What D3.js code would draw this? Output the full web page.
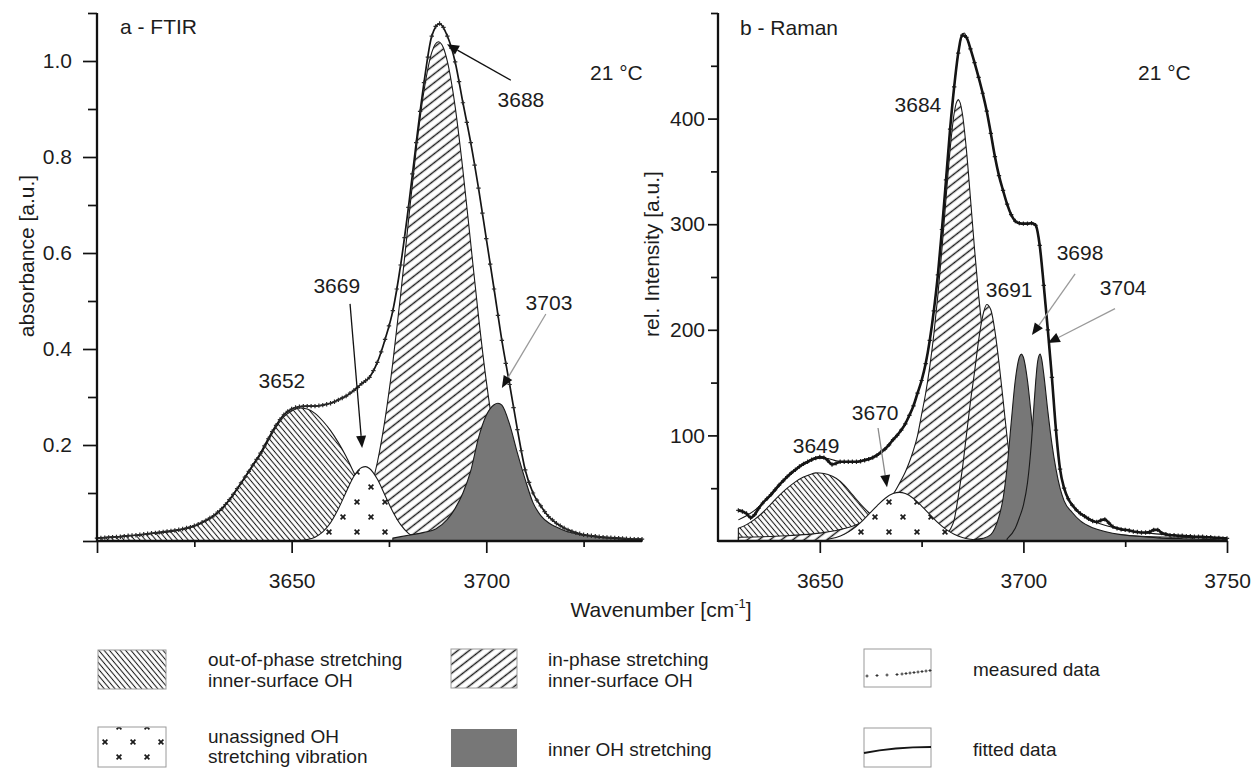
<!DOCTYPE html>
<html><head><meta charset="utf-8">
<script src="https://cdn.jsdelivr.net/npm/d3@7"></script>
<style>
html,body{margin:0;padding:0;background:#fff;}
svg text{font-family:"Liberation Sans",Arial,Helvetica,sans-serif;fill:#1c1c1c;}
.tick text{font-size:21px;}
.lbl{font-size:21px;}
.leg{font-size:19px;}
</style></head><body>
<svg id="chart" width="1256" height="768"></svg>
<script>
// ---------------- DATA ----------------
// FTIR (a): measured data, 1 cm-1 steps from 3600 to 3740
const ftirMeasuredStart = 3600, ftirMeasuredStep = 1;
const ftirMeasured = [
.006,.0065,.007,.0075,.008,.0085,.009,.010,.011,.0115,
.012,.013,.014,.015,.016,.017,.018,.019,.020,.021,
.022,.0235,.025,.027,.029,.032,.035,.039,.043,.048,
.053,.060,.067,.076,.086,.097,.109,.121,.133,.145,
.158,.170,.183,.198,.213,.228,.241,.253,.263,.270,
.275,.278,.280,.281,.281,.281,.281,.282,.283,.285,
.287,.290,.294,.298,.302,.308,.314,.320,.328,.334,
.341,.355,.372,.394,.420,.448,.480,.525,.575,.632,
.695,.765,.830,.895,.955,1.008,1.052,1.072,1.078,1.070,
1.052,1.027,.998,.957,.913,.872,.830,.783,.735,.683,
.630,.577,.525,.470,.418,.370,.326,.278,.232,.188,
.148,.122,.100,.085,.073,.061,.051,.044,.037,.032,
.027,.023,.020,.017,.015,.013,.012,.011,.010,.009,
.008,.0075,.007,.0065,.006,.0055,.005,.0045,.004,.004,.004];
// FTIR fitted sum, 2 cm-1 steps from 3600 to 3740
const ftirFittedStart = 3600, ftirFittedStep = 2;
const ftirFitted = [
.006,.007,.008,.009,.011,.012,.014,.016,.018,.020,
.022,.025,.029,.035,.043,.053,.067,.086,.109,.133,
.158,.183,.213,.241,.263,.275,.280,.281,.281,.283,
.287,.294,.302,.314,.328,.341,.372,.420,.480,.575,
.695,.830,.955,1.052,1.078,1.052,.998,.913,.830,.735,
.630,.525,.418,.326,.232,.148,.100,.073,.051,.037,
.027,.020,.015,.012,.010,.008,.007,.006,.005,.004,.004];
// FTIR fitted components [wavenumber, absorbance]
const ftirOutOfPhase3652 = [[3600,0.006],[3605,0.009],[3610,0.012],[3615,0.016],[3620,0.021],[3624,0.028],[3626,0.034],[3628,0.042],[3630,0.052],[3632,0.066],[3634,0.085],[3636,0.108],[3638,0.132],[3640,0.156],[3642,0.180],[3644,0.209],[3646,0.237],[3648,0.259],[3650,0.271],[3652,0.277],[3654,0.275],[3656,0.266],[3658,0.250],[3660,0.230],[3662,0.205],[3664,0.176],[3666,0.142],[3668,0.110],[3670,0.084],[3672,0.064],[3675,0.045],[3680,0.026],[3685,0.016],[3690,0.010],[3700,0.005],[3710,0.003],[3740,0.001]];
const ftirUnassigned3669 = [[3652,0.001],[3654,0.003],[3656,0.008],[3658,0.019],[3660,0.038],[3662,0.067],[3664,0.102],[3666,0.135],[3668,0.153],[3669,0.155],[3670,0.151],[3672,0.129],[3674,0.095],[3676,0.061],[3678,0.034],[3680,0.016],[3682,0.007],[3684,0.002],[3686,0.001]];
const ftirInPhase3688 = [[3656,0.001],[3660,0.003],[3662,0.006],[3664,0.015],[3666,0.030],[3668,0.056],[3670,0.099],[3672,0.163],[3674,0.254],[3676,0.372],[3678,0.513],[3680,0.666],[3682,0.815],[3684,0.938],[3686,1.018],[3687.7,1.04],[3689,1.027],[3690,0.999],[3692,0.905],[3694,0.772],[3696,0.620],[3698,0.468],[3700,0.333],[3702,0.223],[3704,0.141],[3706,0.084],[3708,0.047],[3710,0.025],[3712,0.012],[3714,0.006],[3716,0.003],[3720,0.001]];
const ftirInner3703 = [[3676,0.006],[3680,0.012],[3684,0.018],[3687,0.025],[3690,0.045],[3692,0.068],[3694,0.100],[3696,0.146],[3698,0.215],[3700,0.262],[3702,0.284],[3703,0.287],[3704,0.283],[3706,0.243],[3708,0.183],[3710,0.128],[3712,0.080],[3714,0.053],[3716,0.038],[3718,0.029],[3720,0.022],[3725,0.012],[3730,0.007],[3735,0.004],[3740,0.003]];

// Raman (b): measured data, 1 cm-1 steps from 3630 to 3750
const ramanMeasuredStart = 3630, ramanMeasuredStep = 1;
const ramanMeasured = [
29,28,26,22,25,31,36,40,44,48.5,
53,57,61,64.5,67.5,70.5,73,75,77,78.5,
79.5,79,76,72.5,73.5,75,75,75,75,75,
75.5,76.5,77.5,79,81,84,87,91,96,100,
105,111,119,128,140,152,168,190,218,252,
295,342,390,430,462,479,477,466,453,439,
424,407,386,364,346,332,319,309,303,301,
300.5,300.5,301,299,280,242,200,155,105,68,
50,40,34,29.5,26,23.5,21,19,18,19.5,
20.5,17,13.5,12,11,10.5,10,9,8.5,8,
8,8.5,10.5,10.5,7.5,6.5,5.5,5.5,5,5,
4.5,4.5,4,4,4,3.5,3.5,3,3,2.5,2.5];
// Raman fitted sum [wavenumber, intensity]
const ramanFitted = [[3630,20],[3632,24],[3634,29],[3636,36],[3638,43],[3640,52],[3642,60],[3644,67],[3646,72.5],[3648,76.5],[3650,78.5],[3652,78],[3654,76],[3656,75],[3658,75],[3660,76],[3662,78],[3664,82],[3666,88],[3668,96],[3670,105],[3671,111],[3672,119],[3673,128],[3674,140],[3675,152],[3676,168],[3677,190],[3678,218],[3679,252],[3680,295],[3681,342],[3682,390],[3683,430],[3684,462],[3685,479],[3685.5,481],[3686,477],[3687,466],[3688,453],[3689,439],[3690,424],[3691,407],[3692,386],[3693,364],[3694,346],[3695,332],[3696,319],[3697,309],[3698,303],[3699,301],[3700,300.5],[3701,300.5],[3702,301],[3703,299],[3703.5,293],[3704,280],[3704.5,262],[3705,242],[3705.5,221],[3706,200],[3706.5,178],[3707,155],[3707.5,130],[3708,105],[3708.5,84],[3709,68],[3710,50],[3711,40],[3712,34],[3714,26],[3716,21],[3718,17.5],[3720,15],[3722,13],[3725,10.5],[3728,8.5],[3732,7],[3736,5.5],[3740,4.5],[3745,3.5],[3750,2.5]];
// Raman fitted components
const ramanOutOfPhase3649 = [[3630,12],[3632,15.5],[3634,20.5],[3636,27],[3638,35],[3640,43],[3642,50],[3644,56],[3646,60.5],[3648,63.5],[3649,64.5],[3650,64.4],[3652,63],[3654,59.5],[3656,53],[3658,44],[3660,35],[3662,27],[3664,20],[3666,14.5],[3668,10.5],[3670,7.5],[3673,5],[3676,3.5],[3680,2.2],[3690,0.9],[3700,0.4]];
const ramanInPhase3684 = [[3630,3.5],[3634,3.8],[3638,4.3],[3642,5],[3646,6],[3650,7.5],[3654,10],[3658,14],[3660,17],[3662,21],[3664,27],[3666,34],[3668,44],[3670,57.7],[3671,65.4],[3672,74.8],[3673,86],[3674,99.8],[3675,119.8],[3676,139.9],[3677,164.9],[3678,195.5],[3679,232.8],[3680,276.5],[3681,324.4],[3682,370.6],[3683,405.1],[3684,418],[3685,405.1],[3686,370.6],[3687,324.4],[3688,276.5],[3689,232.8],[3690,195.5],[3691,164.9],[3692,139.9],[3693,119.8],[3694,99.8],[3695,86],[3696,74.8],[3698,57.7],[3700,45.6],[3702,36],[3704,27],[3706,21],[3708,17],[3710,14],[3714,10],[3718,7.5],[3722,6],[3726,5],[3730,4.3],[3734,3.8],[3738,3.5],[3744,3],[3750,2.6]];
const ramanInPhase3691 = [[3680,2.5],[3682,10.8],[3683,20],[3684,42],[3685,68],[3686,100],[3687,132],[3688,160],[3689,190],[3690,213],[3691,224],[3692,219],[3693,199],[3694,169],[3695,134],[3696,98],[3697,67],[3698,43],[3699,25],[3700,14],[3702,3.4],[3704,0.7],[3706,0.1]];
const ramanUnassigned3670 = [[3652,1.7],[3654,3.4],[3656,6.4],[3658,11],[3660,17.4],[3662,25.3],[3664,33.1],[3666,40.3],[3668,44.9],[3669.5,46],[3671,44.9],[3673,40.3],[3675,33.1],[3677,25.3],[3679,17.4],[3681,11],[3683,6.4],[3685,3.4],[3687,1.7],[3690,0.5]];
const ramanInner3698 = [[3688,1.5],[3690,2.5],[3692,6],[3693,12],[3694,23],[3695,40],[3696,70],[3697,112],[3698,152],[3699,174],[3699.5,177],[3700,174],[3701,152],[3702,116],[3703,77],[3704,45],[3705,23],[3706,12],[3707,6.5],[3709,4],[3712,2.5],[3716,1.5],[3720,1]];
const ramanInner3704 = [[3696,2],[3698,12],[3699,22],[3700,34],[3701,55],[3702,95],[3702.5,123],[3703,150],[3703.5,170],[3704.1,177],[3704.5,172],[3705,158],[3706,123],[3707,92],[3708,68],[3709,50],[3710,38],[3712,27],[3714,19],[3717,12.5],[3720,9],[3724,6],[3728,4.5],[3733,3],[3740,2],[3750,1]];

// tick values
const ftirXMajor = [3600, 3650, 3700], ftirXMinor = [3625, 3675, 3725];
const ftirYMajor = [0, 0.2, 0.4, 0.6, 0.8, 1.0], ftirYMinor = [0.1, 0.3, 0.5, 0.7, 0.9, 1.1];
const ramanXMajor = [3650, 3700, 3750], ramanXMinor = [3675, 3725];
const ramanYMajor = [100, 200, 300, 400], ramanYMinor = [50, 150, 250, 350, 450, 500];

// peak annotations: label position [wn, value], arrow start/tip
const ftirPeakLabels = [
  {t:"3652", w:3647.5, v:0.319},
  {t:"3669", w:3661.6, v:0.517, a:[3665.0,0.494,3668.1,0.194], c:"#111"},
  {t:"3688", w:3708.9, v:0.904, a:[3706.3,0.960,3689.9,1.035], c:"#111"},
  {t:"3703", w:3716.1, v:0.481, a:[3715.3,0.473,3704.0,0.319], c:"#9a9a9a"}];
const ramanPeakLabels = [
  {t:"3684", w:3674.1, v:406},
  {t:"3649", w:3649.1, v:83},
  {t:"3670", w:3663.6, v:114.6, a:[3664.3,107,3666.5,51], c:"#8a8a8a"},
  {t:"3691", w:3696.5, v:231},
  {t:"3698", w:3713.9, v:266, a:[3712.7,253,3702.1,195], c:"#9a9a9a"},
  {t:"3704", w:3724.5, v:233, a:[3722.5,220,3706.0,187.5], c:"#9a9a9a"}];

// ---------------- DRAW ----------------
const svg = d3.select("#chart");
const defs = svg.append("defs");
function hatch(id, angle, sp, sw){
  const p = defs.append("pattern").attr("id",id).attr("patternUnits","userSpaceOnUse")
    .attr("width",sp).attr("height",sp).attr("patternTransform",`rotate(${angle})`);
  p.append("rect").attr("width",sp).attr("height",sp).attr("fill","#fff");
  p.append("line").attr("x1",sp/2).attr("y1",-1).attr("x2",sp/2).attr("y2",sp+1)
    .attr("stroke","#1a1a1a").attr("stroke-width",sw);
}
hatch("hatchOut", -40, 4.1, 1.05);
hatch("hatchIn", 52, 7, 1.45);
const pd = defs.append("pattern").attr("id","dotX").attr("patternUnits","userSpaceOnUse")
  .attr("width",28).attr("height",30);
pd.append("rect").attr("width",28).attr("height",30).attr("fill","#fff");
[[7,7],[21,22]].forEach(([cx,cy])=>pd.append("path")
  .attr("d",`M${cx-2.4},${cy-2.4}L${cx+2.4},${cy+2.4}M${cx+2.4},${cy-2.4}L${cx-2.4},${cy+2.4}`)
  .attr("stroke","#1a1a1a").attr("stroke-width",1.7));
const GREY = "#777777";

const xA = d3.scaleLinear().domain([3600,3740]).range([97,642]);
const yA = d3.scaleLinear().domain([0,1.1]).range([541,13]);
const xB = d3.scaleLinear().domain([3625,3750]).range([718,1227]);
const yB = d3.scaleLinear().domain([0,500]).range([541,13]);

function drawComponent(g, data, x, y, fill){
  const area = d3.area().x(d=>x(d[0])).y0(y(0)).y1(d=>y(d[1])).curve(d3.curveMonotoneX);
  g.append("path").datum(data).attr("d",area).attr("fill",fill)
    .attr("stroke","#1a1a1a").attr("stroke-width",1.1);
}
function drawLine(g, data, x, y, w){
  const line = d3.line().x(d=>x(d[0])).y(d=>y(d[1])).curve(d3.curveMonotoneX);
  g.append("path").datum(data).attr("d",line).attr("fill","none")
    .attr("stroke","#151515").attr("stroke-width",w);
}
function drawMarkers(g, vals, start, step, x, y, s){
  g.selectAll(null).data(vals).join("path")
    .attr("d",`M${-s},0H${s}M0,${-s}V${s}`)
    .attr("transform",(d,i)=>`translate(${x(start+i*step)},${y(d)})`)
    .attr("stroke","#2a2a2a").attr("stroke-width",1.2).attr("fill","none");
}
function arrow(g, x1,y1,x2,y2,col,lw){
  const dx=x2-x1, dy=y2-y1, L=Math.hypot(dx,dy), ux=dx/L, uy=dy/L;
  const hl=12, hw=5, bx=x2-ux*hl, by=y2-uy*hl;
  g.append("line").attr("x1",x1).attr("y1",y1).attr("x2",bx).attr("y2",by)
    .attr("stroke",col).attr("stroke-width",lw);
  g.append("path").attr("d",`M${x2},${y2}L${bx-uy*hw},${by+ux*hw}L${bx+uy*hw},${by-ux*hw}Z`)
    .attr("fill","#111");
}
function axes(x, y, o){
  const mk = (axis, tr) => {
    const g = svg.append("g").attr("transform",tr).call(axis);
    g.select(".domain").remove();
    g.attr("font-family",null).attr("font-size",null);
    g.selectAll("line").attr("stroke","#111").attr("stroke-width",1.7);
    return g;
  };
  const y0 = y.range()[0], x0 = x.range()[0];
  mk(d3.axisBottom(x).tickValues(o.xMinor).tickSize(6).tickFormat(""), `translate(0,${y0})`);
  mk(d3.axisBottom(x).tickValues(o.xMajor).tickSize(12).tickPadding(20).tickFormat(o.xFmt), `translate(0,${y0})`);
  mk(d3.axisLeft(y).tickValues(o.yMinor).tickSize(o.ySizeMinor).tickFormat(""), `translate(${x0},0)`);
  mk(d3.axisLeft(y).tickValues(o.yMajor).tickSize(o.ySize).tickPadding(o.yPad).tickFormat(o.yFmt), `translate(${x0},0)`);
  svg.append("line").attr("x1",x0).attr("x2",x.range()[1]).attr("y1",y0).attr("y2",y0)
    .attr("stroke","#111").attr("stroke-width",2.3);
  svg.append("line").attr("x1",x0).attr("x2",x0).attr("y1",y0+1).attr("y2",y.range()[1])
    .attr("stroke","#111").attr("stroke-width",2.3);
}

// ---- panel a: FTIR
const gA = svg.append("g");
drawComponent(gA, ftirOutOfPhase3652, xA, yA, "url(#hatchOut)");
drawComponent(gA, ftirInPhase3688, xA, yA, "url(#hatchIn)");
drawComponent(gA, ftirUnassigned3669, xA, yA, "url(#dotX)");
drawComponent(gA, ftirInner3703, xA, yA, GREY);
drawLine(gA, ftirFitted.map((v,i)=>[ftirFittedStart+i*ftirFittedStep, v]), xA, yA, 1.7);
drawMarkers(gA, ftirMeasured, ftirMeasuredStart, ftirMeasuredStep, xA, yA, 2.2);

// ---- panel b: Raman
const gB = svg.append("g");
drawComponent(gB, ramanOutOfPhase3649, xB, yB, "url(#hatchOut)");
drawComponent(gB, ramanInPhase3684, xB, yB, "url(#hatchIn)");
drawComponent(gB, ramanInPhase3691, xB, yB, "url(#hatchIn)");
drawComponent(gB, ramanUnassigned3670, xB, yB, "url(#dotX)");
drawComponent(gB, ramanInner3698, xB, yB, GREY);
drawComponent(gB, ramanInner3704, xB, yB, GREY);
drawMarkers(gB, ramanMeasured, ramanMeasuredStart, ramanMeasuredStep, xB, yB, 2.2);
drawLine(gB, ramanMeasured.map((v,i)=>[ramanMeasuredStart+i*ramanMeasuredStep, v]), xB, yB, 2.6);
drawLine(gB, ramanFitted, xB, yB, 1.1);

axes(xA, yA, {xMajor:ftirXMajor, xMinor:ftirXMinor, yMajor:ftirYMajor, yMinor:ftirYMinor,
  xFmt:d=>d===3600?"":d, yFmt:d=>d===0?"":d3.format(".1f")(d), ySize:14, ySizeMinor:9, yPad:11});
axes(xB, yB, {xMajor:ramanXMajor, xMinor:ramanXMinor, yMajor:ramanYMajor, yMinor:ramanYMinor,
  xFmt:d=>d, yFmt:d=>d, ySize:10, ySizeMinor:7, yPad:3});

// annotations
const ann = svg.append("g");
function labels(list, x, y){
  list.forEach(p=>{
    ann.append("text").attr("class","lbl").attr("x",x(p.w)).attr("y",y(p.v))
      .attr("text-anchor","middle").text(p.t);
    if(p.a) arrow(ann, x(p.a[0]), y(p.a[1]), x(p.a[2]), y(p.a[3]), p.c, 1.3);
  });
}
labels(ftirPeakLabels, xA, yA);
labels(ramanPeakLabels, xB, yB);

ann.append("text").attr("class","lbl").attr("x",120).attr("y",34).text("a - FTIR");
ann.append("text").attr("class","lbl").attr("x",740).attr("y",35).text("b - Raman");
ann.append("text").attr("class","lbl").attr("x",590).attr("y",80).text("21 °C");
ann.append("text").attr("class","lbl").attr("x",1138).attr("y",80).text("21 °C");
ann.append("text").attr("class","lbl").attr("transform","translate(34,256) rotate(-90)")
  .attr("text-anchor","middle").text("absorbance [a.u.]");
ann.append("text").attr("class","lbl").attr("transform","translate(659,254) rotate(-90)")
  .attr("text-anchor","middle").text("rel. Intensity [a.u.]");
const xt = ann.append("text").attr("class","lbl").attr("x",661).attr("y",617).attr("text-anchor","middle");
xt.append("tspan").text("Wavenumber [cm");
xt.append("tspan").attr("dy",-9).style("font-size","13px").text("-1");
xt.append("tspan").attr("dy",9).text("]");

// legend
const leg = svg.append("g");
const legItems = [
  {x:98, y:650, w:68, h:39, fill:"url(#hatchOut)", tx:208, lines:["out-of-phase stretching","inner-surface OH"], ty:[666,687]},
  {x:451,y:649, w:66, h:39, fill:"url(#hatchIn)", tx:548, lines:["in-phase stretching","inner-surface OH"], ty:[666,687]},
  {x:864,y:649, w:67, h:38, fill:"#fff", tx:973, lines:["measured data"], ty:[676], kind:"measured"},
  {x:98, y:727, w:68, h:40, fill:"url(#dotX)", tx:208, lines:["unassigned OH","stretching vibration"], ty:[743,763]},
  {x:451,y:729, w:66, h:38, fill:GREY, tx:548, lines:["inner OH stretching"], ty:[756]},
  {x:864,y:728, w:67, h:39, fill:"#fff", tx:973, lines:["fitted data"], ty:[756], kind:"fitted"}];
legItems.forEach(it=>{
  leg.append("rect").attr("x",it.x).attr("y",it.y).attr("width",it.w).attr("height",it.h)
    .attr("fill",it.fill).attr("stroke",it.fill===GREY?"none":"#9a9a9a").attr("stroke-width",1);
  it.lines.forEach((t,i)=>leg.append("text").attr("class","leg").attr("x",it.tx).attr("y",it.ty[i]).text(t));
  if(it.kind==="measured"){
    const px=[3,13,23,33,38,42,46,50,54,58,62,66];
    px.forEach((d,i)=>leg.append("path").attr("d","M-1.5,0H1.5M0,-1.5V1.5")
      .attr("transform",`translate(${it.x+d},${it.y+27-i*0.5})`)
      .attr("stroke","#333").attr("stroke-width",1));
  }
  if(it.kind==="fitted"){
    leg.append("path").attr("d",`M${it.x},${it.y+25} C${it.x+20},${it.y+21} ${it.x+40},${it.y+19} ${it.x+it.w},${it.y+19}`)
      .attr("fill","none").attr("stroke","#151515").attr("stroke-width",1.8);
  }
});
</script></body></html>
